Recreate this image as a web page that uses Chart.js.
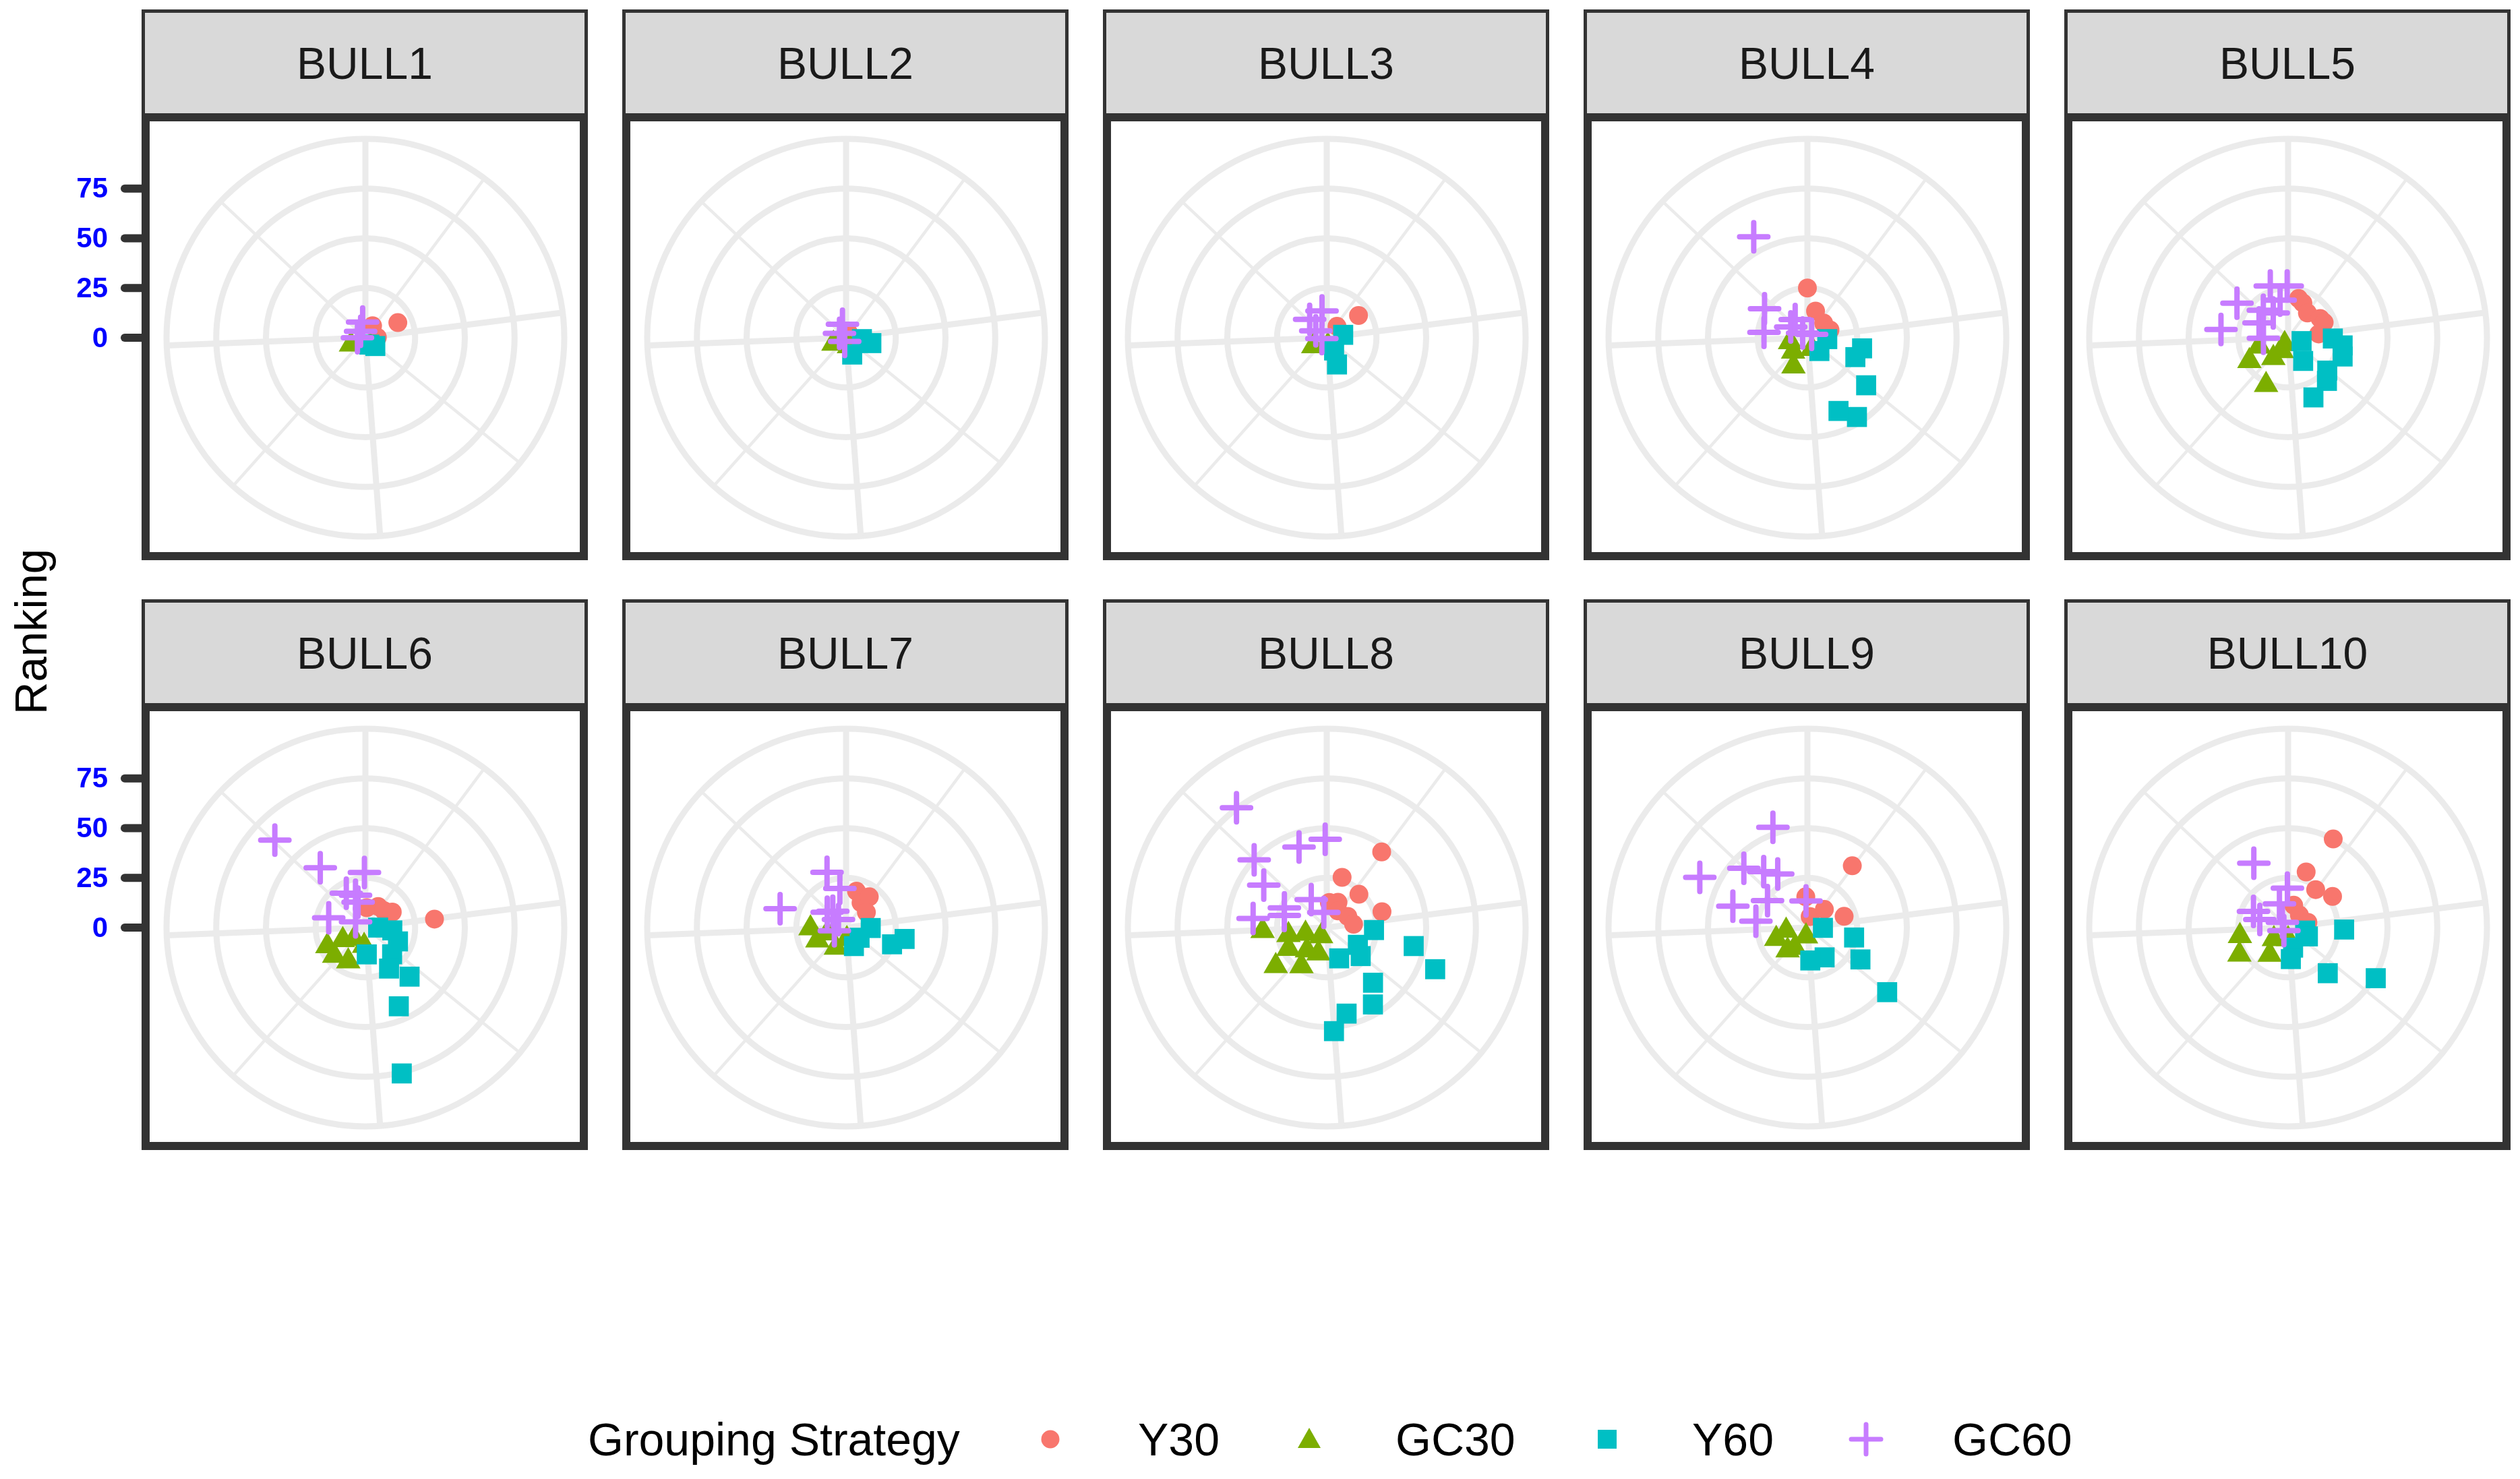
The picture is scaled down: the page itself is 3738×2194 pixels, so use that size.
<!DOCTYPE html>
<html>
<head>
<meta charset="utf-8">
<title>Ranking by bull</title>
<script src="https://cdn.jsdelivr.net/npm/chart.js@4.4.1/dist/chart.umd.min.js"></script>
<style>
  html, body { margin: 0; padding: 0; background: #fff; }
  body {
    width: 3738px; height: 2194px; position: relative; overflow: hidden;
    font-family: "Liberation Sans", Arial, Helvetica, sans-serif;
  }
  .holder { position: absolute; }
  .strip {
    position: absolute; box-sizing: border-box; background: #d9d9d9;
    border: 5px solid #333; color: #1a1a1a; font-size: 66px;
    display: flex; align-items: center; justify-content: center;
  }
  .frame {
    position: absolute; box-sizing: border-box; border: 12px solid #333;
    pointer-events: none;
  }
  .ylab {
    position: absolute; left: 45px; top: 937px; font-size: 67px; color: #000;
    white-space: nowrap; transform: translate(-50%, -50%) rotate(-90deg);
  }
  .leg { position: absolute; font-size: 68px; line-height: 80px; top: 2095px; color: #000; white-space: nowrap; }
  svg { position: absolute; }
</style>
</head>
<body>

<div class="ylab">Ranking</div>

<div class="leg" style="left:872px">Grouping Strategy</div>
<svg style="left:1544px;top:2121px" width="28" height="28"><circle cx="14" cy="14" r="13.5" fill="#F8766D"/></svg>
<div class="leg" style="left:1688px">Y30</div>
<svg style="left:1925px;top:2118px" width="34" height="30"><polygon points="17,0 34,30 0,30" fill="#7CAE00"/></svg>
<div class="leg" style="left:2070px">GC30</div>
<svg style="left:2370px;top:2121px" width="28" height="28"><rect x="0" y="0" width="28" height="28" fill="#00BFC4"/></svg>
<div class="leg" style="left:2510px">Y60</div>
<svg style="left:2742px;top:2109px" width="52" height="52"><path d="M26 4 V48 M4 26 H48" stroke="#C77CFF" stroke-width="7" stroke-linecap="round"/></svg>
<div class="leg" style="left:2896px">GC60</div>

<script>
// Facets and groups
const bulls = ['BULL1', 'BULL2', 'BULL3', 'BULL4', 'BULL5', 'BULL6', 'BULL7', 'BULL8', 'BULL9', 'BULL10'];
const groups = ['Y30', 'GC30', 'Y60', 'GC60'];
const groupColors = ['#F8766D', '#7CAE00', '#00BFC4', '#C77CFF'];

// Angle (degrees, clockwise from 12 o'clock) and Ranking of each point, one list per bull
const y30Angle = [
  [65, 31, 88], [20], [55, 42], [0, 17, 71, 48],
  [15, 59, 67, 83, 38, 23], [83, 4, 31, 60, 47], [16, 37, 53, 31],
  [36, 17, 44, 74, 6, 24, 62, 83, 34], [36, 357, 43, 73, 14], [27, 18, 36, 55, 14, 75, 42]
];
const y30Rank = [
  [18, 7, 6], [3], [19.5, 7.7], [25, 14, 12, 11],
  [20.4, 18.8, 19.7, 15.5, 15.8, 19], [35, 10, 12.4, 15.6, 12.6], [19, 19.4, 12.8, 14.6],
  [47, 26.4, 23.3, 28.9, 12.7, 13.9, 12, 13.6, 10.1], [38.4, 15.5, 12.5, 19.3, 5.7], [50, 29.4, 23.6, 27.3, 11.6, 10.3, 8.5]
];

const gc30Angle = [
  [245, 149], [245, 161], [238, 172], [206, 226, 256, 158],
  [239, 205, 205, 216, 253, 209], [244, 228, 207, 225, 184, 241], [269, 246, 207, 176, 253],
  [267, 259, 254, 213, 233, 213, 241, 198, 221], [250, 262, 189, 221, 212], [241, 260, 214, 231, 180]
];
const gc30Rank = [
  [8, 5], [7, 4.5], [8, 4], [16, 10, 9, 6],
  [22.7, 26.2, 7.4, 12.6, 15.2, 3.6], [21.3, 21.1, 19, 8, 9.2, 13], [17.9, 15.8, 11.3, 5.8, 9.9],
  [32.3, 19.6, 11.1, 5.2, 32.1, 23.2, 22, 13.6, 15.2], [16.7, 10.8, 4.5, 15.2, 12], [28, 24.6, 16.5, 9.2, 5.8]
];

const y60Angle = [
  [130, 150], [102, 160, 95], [80, 150, 159], [101, 112, 129, 157, 148, 94, 138],
  [104, 147, 91, 98, 109, 130, 138, 157], [90, 96, 113, 135, 177, 138, 157, 166, 150], [91, 127, 157, 110, 101],
  [93, 102, 111, 119, 130, 158, 140, 149, 167, 176], [91, 102, 121, 150, 175, 129], [92, 100, 175, 166, 139, 120, 114]
];
const y60Rank = [
  [6.5, 4], [13, 9, 8], [8.4, 7.4, 14.4], [28, 26, 38, 40, 47, 10, 9],
  [7, 13.9, 22.5, 27.7, 29, 25.7, 29.2, 32.6], [6.4, 13.6, 17.8, 19, 13.5, 33.2, 43, 75.6, 23.8], [12.4, 8.5, 10.1, 24.6, 30],
  [23.8, 44.7, 58.4, 17.9, 22.3, 16.7, 36.2, 45.1, 44.4, 52.2], [7.8, 24, 31.1, 17.3, 16.6, 51.6], [28.2, 8.7, 15.9, 10.4, 30.4, 50.9, 10.9]
];

const gc60Angle = [
  [323, 350, 270], [345, 304, 200], [350, 302, 317, 260], [332, 304, 277, 326, 315, 52, 303],
  [341, 359, 304, 277, 297, 318, 348, 329, 269], [314, 323, 359, 331, 343, 285, 300, 344], [341, 286, 351, 321, 317, 309, 255],
  [323, 341, 359, 313, 304, 277, 295, 331, 349, 286], [341, 295, 313, 322, 331, 286, 304, 277, 357], [332, 359, 295, 286, 340, 313, 234]
];
const gc60Rank = [
  [4, 8, 4], [7, 4, 2], [13.7, 6.5, 12.6, 2.5], [57.5, 26, 22, 11, 3.4, 2.7, 10],
  [27.5, 26, 31, 34, 16.4, 18.6, 19.3, 14.5, 12.4], [63.3, 37.7, 27.7, 19.8, 17, 19.1, 5.7, 13.3], [29.4, 34.5, 19.9, 10.6, 5.6, 12.2, 6.1],
  [75.4, 42.8, 44.4, 49.9, 38.2, 37.3, 23.5, 16.1, 7.8, 22.2], [53.3, 59.7, 43.7, 35.7, 30.8, 39, 24.2, 26.1, 13.4], [36.7, 19.8, 19.2, 14.8, 12.7, 3.9, 2.6]
];

// Radial axis
const tickValues = [0, 25, 50, 75];
const tickLabels = ['0', '25', '50', '75'];
const majorSpokes = [0, 82.7, 175.8, 267.8];
const minorSpokes = [36.7, 129, 221.8, 313.3];

const allAngles = [y30Angle, gc30Angle, y60Angle, gc60Angle];
const allRanks = [y30Rank, gc30Rank, y60Rank, gc60Rank];

// layout of the facet grid
const colLeft = [215, 928, 1641, 2354, 3067];
const rowTop = [174, 1049];
const panelSize = 655;
const gridColor = '#EBEBEB';

// the angular axis is a category axis with one slot per quarter degree
const steps = 1440;
const angleSlots = Array.from({ length: steps }, (_, i) => String(i / 4));
const slotOf = (deg) => Math.round(deg * steps / 360) % steps;
const majorIdx = new Set(majorSpokes.map(slotOf));
const minorIdx = new Set(minorSpokes.map(slotOf));

function slotData(angles, ranks) {
  const arr = new Array(steps).fill(null);
  angles.forEach((a, k) => {
    let i = slotOf(a);
    while (arr[i] !== null) i = (i + 1) % steps;
    arr[i] = ranks[k];
  });
  return arr;
}

const pointLook = [
  { pointStyle: 'circle', pointRadius: 14, pointBorderWidth: 0 },
  { pointStyle: 'triangle', pointRadius: 21, pointBorderWidth: 0 },
  { pointStyle: 'rect', pointRadius: 21, pointBorderWidth: 0 },
  { pointStyle: 'cross', pointRadius: 21, pointBorderWidth: 8 },
];

// round ends for the plus marks
const roundCaps = {
  id: 'roundCaps',
  beforeDatasetsDraw(chart) { chart.ctx.lineCap = 'round'; },
};

// ranking labels outside the left edge of the first column
const leftAxis = {
  id: 'leftAxis',
  afterDraw(chart) {
    if (!chart.options.plugins.leftAxis.show) return;
    const s = chart.scales.r;
    const ctx = chart.ctx;
    const edge = chart.chartArea.left - 32;
    ctx.save();
    ctx.strokeStyle = '#333';
    ctx.lineWidth = 12;
    ctx.fillStyle = '#0000FF';
    ctx.font = 'bold 42px "Liberation Sans", Arial, sans-serif';
    ctx.textAlign = 'right';
    ctx.textBaseline = 'middle';
    tickValues.forEach((v, k) => {
      const y = s.yCenter - s.getDistanceFromCenterForValue(v);
      ctx.beginPath();
      ctx.moveTo(edge - 30, y);
      ctx.lineTo(edge, y);
      ctx.stroke();
      ctx.fillText(tickLabels[k], edge - 55, y + 2);
    });
    ctx.restore();
  },
};

bulls.forEach((bull, b) => {
  const col = b % 5;
  const row = Math.floor(b / 5);
  const left = colLeft[col];
  const top = rowTop[row];

  const strip = document.createElement('div');
  strip.className = 'strip';
  const stripTop = row === 0 ? 14 : 889;
  strip.style.cssText = `left:${left - 5}px;top:${stripTop}px;width:${panelSize + 7}px;height:${top - 6 - stripTop + 5}px;`;
  strip.textContent = bull;
  document.body.appendChild(strip);

  const holder = document.createElement('div');
  holder.className = 'holder';
  const hLeft = col === 0 ? 0 : left;
  holder.style.cssText = `left:${hLeft}px;top:${top}px;width:${left + panelSize - hLeft}px;height:${panelSize}px;`;
  const canvas = document.createElement('canvas');
  holder.appendChild(canvas);
  document.body.appendChild(holder);

  const frame = document.createElement('div');
  frame.className = 'frame';
  frame.style.cssText = `left:${left - 5}px;top:${top - 6}px;width:${panelSize + 7}px;height:${panelSize + 8}px;`;
  document.body.appendChild(frame);

  const datasets = groups.map((g, k) => ({
    label: g,
    data: slotData(allAngles[k][b], allRanks[k][b]),
    showLine: false,
    fill: false,
    borderWidth: 0,
    borderColor: 'transparent',
    backgroundColor: 'transparent',
    pointBackgroundColor: groupColors[k],
    pointBorderColor: groupColors[k],
    order: groups.length - k,
    ...pointLook[k],
    pointHoverRadius: pointLook[k].pointRadius,
  }));

  new Chart(canvas, {
    type: 'radar',
    data: { labels: angleSlots, datasets },
    plugins: [roundCaps, leftAxis],
    options: {
      responsive: true,
      maintainAspectRatio: false,
      animation: false,
      events: [],
      layout: { padding: { left: left - hLeft + 32, right: 32, top: 32, bottom: 32 } },
      plugins: {
        legend: { display: false },
        tooltip: { enabled: false },
        leftAxis: { show: col === 0 },
      },
      scales: {
        r: {
          min: 0,
          max: 100,
          startAngle: 0,
          ticks: { display: false, stepSize: 25 },
          pointLabels: { display: false },
          grid: { circular: true, color: gridColor, lineWidth: 9 },
          angleLines: {
            display: true,
            color: (ctx) => (majorIdx.has(ctx.index) || minorIdx.has(ctx.index)) ? gridColor : 'transparent',
            lineWidth: (ctx) => majorIdx.has(ctx.index) ? 9 : (minorIdx.has(ctx.index) ? 4.5 : 0),
          },
        },
      },
    },
  });
});
</script>
</body>
</html>
